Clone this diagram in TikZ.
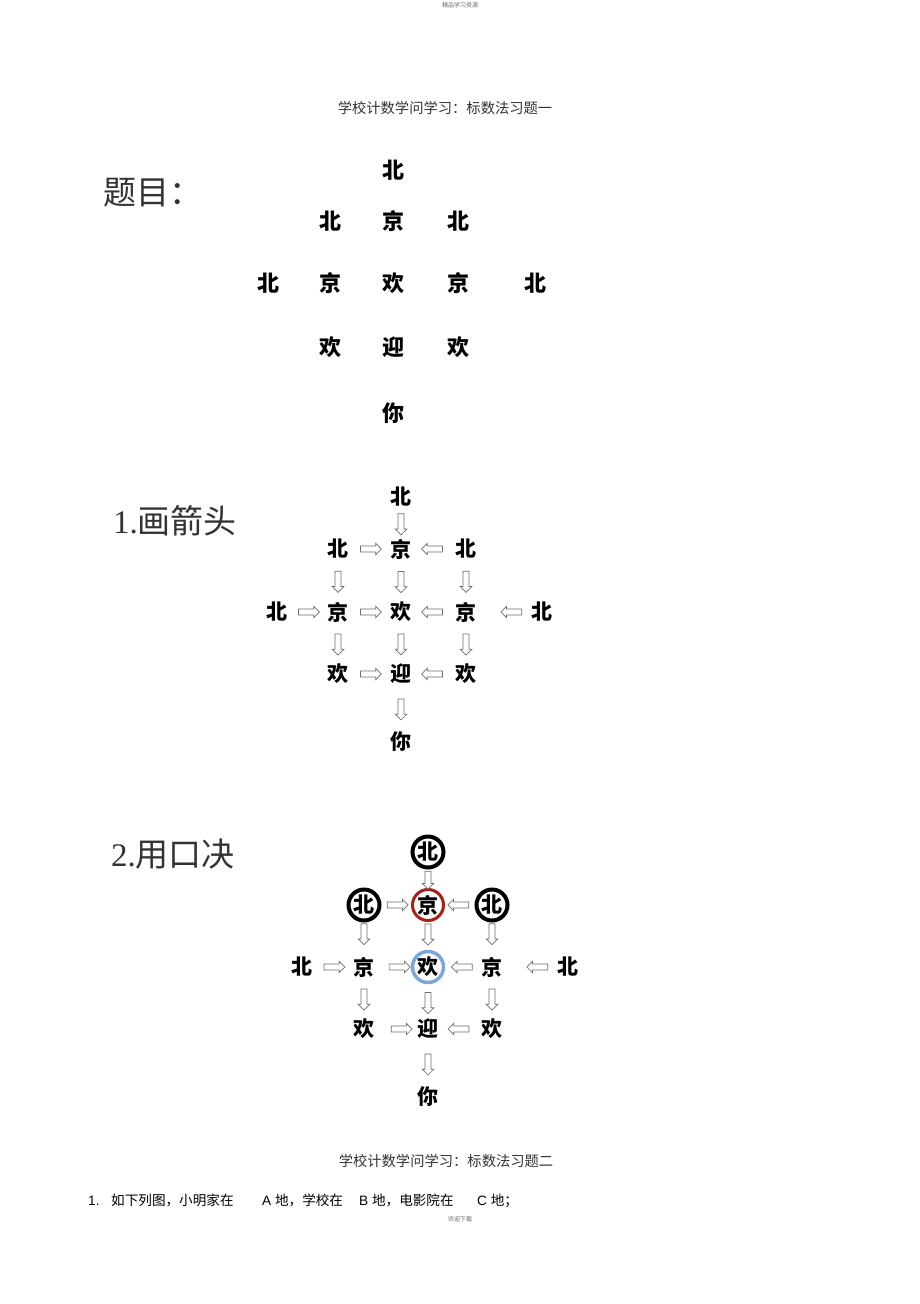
\documentclass[tikz,border=0pt]{standalone}
\usepackage{fontspec}
\setmainfont{Liberation Serif}
\newfontfamily\cjk{Noto Sans CJK SC}
\newfontfamily\lsans{Liberation Sans}
\usetikzlibrary{positioning, shapes.arrows}

\definecolor{arrgray}{HTML}{6E6E6E}
\definecolor{ringred}{HTML}{A8201A}
\definecolor{ringblue}{HTML}{7BA7D9}
\definecolor{inkgray}{HTML}{333333}

\tikzset{
  ch/.style={inner sep=0pt, font=\cjk\bfseries\fontsize{21}{21}\selectfont},
  chq/.style={inner sep=0pt, font=\cjk\bfseries\fontsize{22}{22}\selectfont},
  ring/.style={circle, draw=black, line width=4pt, minimum size=31pt, inner sep=0pt},
  head/.style={anchor=base west, inner sep=0pt, text=inkgray, font=\fontsize{33}{33}\selectfont},
  title/.style={inner sep=0pt, text=inkgray, font=\cjk\fontsize{14.3}{14.3}\selectfont},
  small/.style={inner sep=0pt, text=black!60, font=\cjk\fontsize{6}{6}\selectfont},
  line/.style={anchor=base west, inner sep=0pt, font=\lsans\fontsize{13.6}{13.6}\selectfont},
  harr/.style={single arrow, draw=arrgray, fill=white, line width=0.7pt,
    text height=0pt, text depth=0pt, text width=0pt, inner xsep=0pt, inner ysep=2.6pt,
    minimum height=21pt, single arrow head extend=2.8pt,
    single arrow head indent=0pt, sloped, allow upside down},
}

\begin{document}
\begin{tikzpicture}[x=1pt, y=-1pt, node distance=62pt, on grid]
\useasboundingbox[fill=white] (0,0) rectangle (920,1304);

% page texts
\node[small] (top) at (460,5) {精品学习资源};
\node[title] (t1) at (445,108) {学校计数学问学习：标数法习题一};
\node[head] (h0) at (103,204) {\cjk 题目：};
\node[head] (h1) at (113,533) {1.{\cjk 画箭头}};
\node[head] (h2) at (111,866) {2.{\cjk 用口决}};
\node[title] (t2) at (446,1161) {学校计数学问学习：标数法习题二};
\node[line] (l0) at (88,1205) {1.};
\node[line] (l1) at (111,1205) {\cjk 如下列图，小明家在};
\node[line] (l2) at (262,1205) {A {\cjk 地，学校在}};
\node[line] (l3) at (359,1205) {B {\cjk 地，电影院在}};
\node[line] (l4) at (477,1205) {C {\cjk 地；}};
\node[small] (bot) at (460,1219) {欢迎下载};

% question
\node[chq] (qh) at (393,283) {欢};
\node[chq, above=62pt of qh] (qjt) {京};
\node[chq, above=51pt of qjt] (qbt) {北};
\node[chq, left=63pt of qh] (qjl) {京};
\node[chq, right=65pt of qh] (qjr) {京};
\node[chq, left=62pt of qjl] (qbl) {北};
\node[chq, right=77pt of qjr] (qbr) {北};
\node[chq, above=62pt of qjl] (qbtl) {北};
\node[chq, above=62pt of qjr] (qbtr) {北};
\node[chq, below=64pt of qh] (qy) {迎};
\node[chq, below=64pt of qjl] (qhl) {欢};
\node[chq, below=64pt of qjr] (qhr) {欢};
\node[chq, below=66pt of qy] (qn) {你};

% 1. arrows
\node[ch] (sh) at (401,612) {欢};
\node[ch, above=63pt of sh] (sjt) {京};
\node[ch, above=52pt of sjt] (sbt) {北};
\node[ch, left=63pt of sh] (sjl) {京};
\node[ch, right=65pt of sh] (sjr) {京};
\node[ch, left=61pt of sjl] (sbl) {北};
\node[ch, right=76pt of sjr] (sbr) {北};
\node[ch, above=63pt of sjl] (sbtl) {北};
\node[ch, above=63pt of sjr] (sbtr) {北};
\node[ch, below=62pt of sh] (sy) {迎};
\node[ch, below=62pt of sjl] (shl) {欢};
\node[ch, below=62pt of sjr] (shr) {欢};
\node[ch, below=68pt of sy] (sn) {你};

\path
(sbt) -- node[harr]{} (sjt)
(sbtl) -- node[harr]{} (sjt)
(sbtr) -- node[harr]{} (sjt)
(sbtl) -- node[harr]{} (sjl)
(sjt) -- node[harr]{} (sh)
(sbtr) -- node[harr]{} (sjr)
(sbl) -- node[harr]{} (sjl)
(sjl) -- node[harr]{} (sh)
(sjr) -- node[harr]{} (sh)
(sbr) -- node[harr, pos=0.34]{} (sjr)
(sjl) -- node[harr]{} (shl)
(sh) -- node[harr]{} (sy)
(sjr) -- node[harr]{} (shr)
(shl) -- node[harr]{} (sy)
(shr) -- node[harr]{} (sy)
(sy) -- node[harr]{} (sn);

% 2. rhyme
\node[ch, ring, draw=ringblue, line width=3.5pt] (kh) at (428,967) {欢};
\node[ch, ring, draw=ringred, line width=3pt, above=62pt of kh] (kjt) {京};
\node[ch, ring, above=53pt of kjt] (kbt) {北};
\node[ch, left=64pt of kh] (kjl) {京};
\node[ch, right=64pt of kh] (kjr) {京};
\node[ch, left=62pt of kjl] (kbl) {北};
\node[ch, right=76pt of kjr] (kbr) {北};
\node[ch, ring, above=62pt of kjl] (kbtl) {北};
\node[ch, ring, above=62pt of kjr] (kbtr) {北};
\node[ch, below=62pt of kh] (ky) {迎};
\node[ch, below=62pt of kjl] (khl) {欢};
\node[ch, below=62pt of kjr] (khr) {欢};
\node[ch, below=68pt of ky] (kn) {你};

\path
(kbt) -- node[harr, minimum height=18pt]{} (kjt)
(kbtl) -- node[harr]{} (kjt)
(kbtr) -- node[harr]{} (kjt)
(kbtl) -- node[harr, pos=0.3]{} (kjl)
(kjt) -- node[harr, pos=0.4]{} (kh)
(kbtr) -- node[harr, pos=0.3]{} (kjr)
(kbl) -- node[harr]{} (kjl)
(kjl) -- node[harr, pos=0.65]{} (kh)
(kjr) -- node[harr]{} (kh)
(kbr) -- node[harr, pos=0.34]{} (kjr)
(kjl) -- node[harr]{} (khl)
(kh) -- node[harr]{} (ky)
(kjr) -- node[harr]{} (khr)
(khl) -- node[harr, pos=0.6]{} (ky)
(khr) -- node[harr]{} (ky)
(ky) -- node[harr]{} (kn);

\end{tikzpicture}
\end{document}
